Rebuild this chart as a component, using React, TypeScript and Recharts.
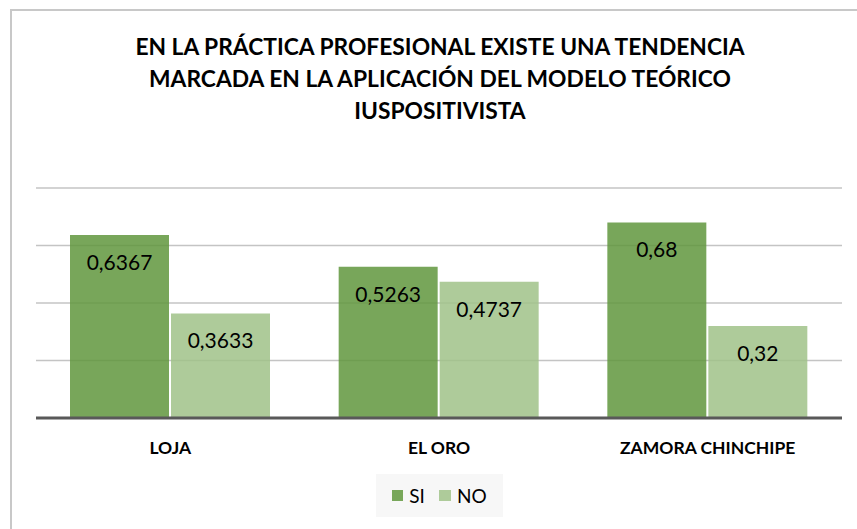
import { BarChart, Bar, XAxis, YAxis, CartesianGrid, LabelList } from "recharts";

const categories = ["LOJA", "EL ORO", "ZAMORA CHINCHIPE"];
const siValues = [0.6367, 0.5263, 0.68];
const noValues = [0.3633, 0.4737, 0.32];
const yTicks = [0, 0.2, 0.4, 0.6, 0.8];
const titleLines = [
  "EN LA PRÁCTICA PROFESIONAL EXISTE UNA TENDENCIA",
  "MARCADA EN LA APLICACIÓN DEL MODELO TEÓRICO",
  "IUSPOSITIVISTA",
];

const data = categories.map((name, i) => ({ name, si: siValues[i], no: noValues[i] }));

const SI_COLOR = "#60973D";
const NO_COLOR = "#A0C288";
const FONT = "Lato, 'Open Sans', sans-serif";

const fmt = (v: number) => String(v).replace(".", ",");

export default function App() {
  return (
    <div style={{ position: "absolute", left: 0, top: 0, width: 857, height: 529, background: "#fff", fontFamily: FONT }}>
      <div
        style={{
          position: "absolute",
          left: 10,
          top: 9,
          width: 860,
          height: 530,
          borderTop: "2px solid #C8C8C8",
          borderLeft: "2px solid #C8C8C8",
        }}
      />
      <div
        style={{
          position: "absolute",
          left: 10,
          width: 860,
          top: 30,
          textAlign: "center",
          fontWeight: 700,
          fontSize: 22.8,
          lineHeight: "32px",
          color: "#000",
        }}
      >
        {titleLines.map((t) => (
          <div key={t}>{t}</div>
        ))}
      </div>
      <div style={{ position: "absolute", left: 0, top: 0 }}>
        <BarChart
          width={857}
          height={529}
          data={data}
          margin={{ top: 188, right: 15, left: 36, bottom: 71 }}
          barCategoryGap={34}
          barGap={2}
        >
          <CartesianGrid vertical={false} stroke="#C4C4C4" strokeWidth={1.5} />
          <YAxis hide domain={[0, 0.8]} ticks={yTicks} />
          <XAxis
            dataKey="name"
            height={40}
            tickLine={false}
            axisLine={{ stroke: "#595959", strokeWidth: 3 }}
            tickMargin={18}
            tick={{ fontSize: 17.5, fontWeight: 700, fill: "#000", fontFamily: FONT }}
          />
          <Bar dataKey="si" fill={SI_COLOR} fillOpacity={0.85} isAnimationActive={false}>
            <LabelList
              dataKey="si"
              position="insideTop"
              offset={20}
              formatter={(v: number) => fmt(v)}
              style={{ fontSize: 21, fill: "#000", fontFamily: FONT }}
            />
          </Bar>
          <Bar dataKey="no" fill={NO_COLOR} fillOpacity={0.85} isAnimationActive={false}>
            <LabelList
              dataKey="no"
              position="insideTop"
              offset={20}
              formatter={(v: number) => fmt(v)}
              style={{ fontSize: 21, fill: "#000", fontFamily: FONT }}
            />
          </Bar>
        </BarChart>
      </div>
      <div
        style={{
          position: "absolute",
          left: 376,
          top: 474,
          width: 127,
          height: 43,
          background: "#F7F7F7",
          display: "flex",
          alignItems: "center",
          justifyContent: "center",
          fontSize: 19,
          color: "#000",
        }}
      >
        <span style={{ width: 11, height: 11, background: "#78A75A", display: "inline-block", marginRight: 6 }} />
        <span style={{ marginRight: 14 }}>SI</span>
        <span style={{ width: 12, height: 11, background: "#AECB9A", display: "inline-block", marginRight: 6 }} />
        <span>NO</span>
      </div>
    </div>
  );
}
